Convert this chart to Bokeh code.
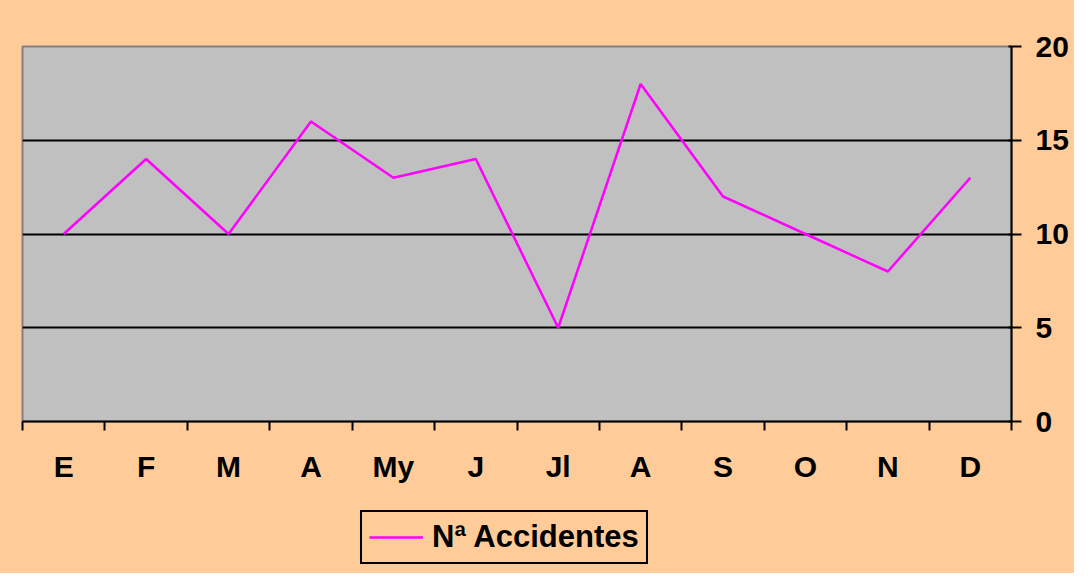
from bokeh.plotting import figure
from bokeh.layouts import column
from bokeh.models import FixedTicker, Legend, Range1d
from bokeh.embed import file_html
from bokeh.resources import INLINE

months = ["E", "F", "M", "A", "My", "J", "Jl", "A", "S", "O", "N", "D"]
accidents = [10, 14, 10, 16, 13, 14, 5, 18, 12, 10, 8, 13]
y_ticks = [0, 5, 10, 15, 20]
series_name = "Nª Accidentes"

FONT = "Liberation Sans"
PEACH = "#FFCC99"
MAGENTA = "#FF00FF"

xs = list(range(1, len(months) + 1))

p = figure(width=1074, height=500, output_backend="svg", toolbar_location=None,
           x_range=Range1d(0.5, len(months) + 0.5), y_range=Range1d(0, 20),
           y_axis_location="right",
           min_border_left=22, min_border_top=46, min_border_right=63, min_border_bottom=79)
p.background_fill_color = "#C0C0C0"
p.border_fill_color = PEACH
p.outline_line_color = "#808080"
p.outline_line_width = 2

r = p.line(xs, accidents, line_color=MAGENTA, line_width=2.5)

# x axis: labels at centres, ticks at boundaries (minor ticks)
xa = p.xaxis[0]
xa.ticker = FixedTicker(ticks=xs, minor_ticks=[x + 0.5 for x in range(0, len(months) + 1)])
xa.major_label_overrides = {x: m for x, m in zip(xs, months)}
xa.major_tick_out = 0
xa.major_tick_in = 0
xa.minor_tick_out = 9
xa.minor_tick_in = 0
xa.minor_tick_line_color = "black"
xa.minor_tick_line_width = 2
xa.axis_line_color = "black"
xa.axis_line_width = 2
xa.major_label_text_font = FONT
xa.major_label_text_font_style = "bold"
xa.major_label_text_font_size = "30px"
xa.major_label_text_color = "black"
xa.major_label_standoff = 19

ya = p.yaxis[0]
ya.ticker = FixedTicker(ticks=y_ticks, minor_ticks=[])
ya.major_tick_out = 10
ya.major_tick_in = 3
ya.major_tick_line_color = "black"
ya.major_tick_line_width = 2
ya.axis_line_color = "black"
ya.axis_line_width = 2
ya.major_label_text_font = FONT
ya.major_label_text_font_style = "bold"
ya.major_label_text_font_size = "30px"
ya.major_label_text_color = "black"
ya.major_label_standoff = 14

p.xgrid.visible = False
p.ygrid.ticker = FixedTicker(ticks=[5, 10, 15])
p.ygrid.grid_line_color = "black"
p.ygrid.grid_line_width = 2

# legend strip below the chart
p2 = figure(width=1074, height=73, output_backend="svg", toolbar_location=None,
            x_range=Range1d(100, 101), y_range=Range1d(100, 101),
            x_axis_type=None, y_axis_type=None,
            min_border=0, min_border_left=0, min_border_right=0,
            min_border_top=0, min_border_bottom=0)
p2.background_fill_color = PEACH
p2.border_fill_color = PEACH
p2.outline_line_color = PEACH
p2.outline_line_width = 3
p2.grid.visible = False
r2 = p2.line(xs, accidents, line_color=MAGENTA, line_width=2.5)

legend = Legend(items=[(series_name, [r2])], location=(338, 9))
legend.border_line_color = "black"
legend.border_line_width = 2
legend.border_line_alpha = 1
legend.background_fill_color = PEACH
legend.background_fill_alpha = 1
legend.label_text_font = FONT
legend.label_text_font_style = "bold"
legend.label_text_font_size = "31px"
legend.label_text_color = "black"
legend.glyph_width = 54
legend.glyph_height = 20
legend.label_standoff = 9
legend.padding = 7
legend.margin = 0
legend.spacing = 0
p2.add_layout(legend, "center")

layout = column(p, p2, spacing=0, styles={"background-color": PEACH})
open("out.html", "w").write(file_html(layout, INLINE))
